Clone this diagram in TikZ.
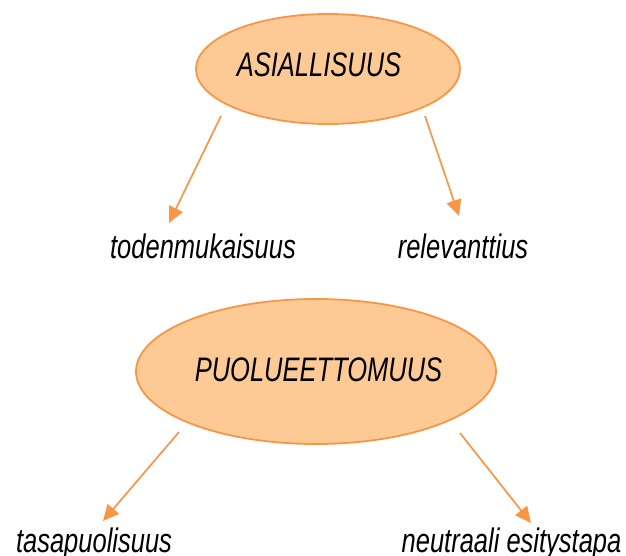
\documentclass[tikz,border=0pt]{standalone}
\usepackage{fontspec}
\setmainfont{Liberation Sans}
\usetikzlibrary{shapes.geometric,arrows.meta}
\definecolor{orfill}{HTML}{FDCA95}
\definecolor{orline}{HTML}{F79646}
\tikzset{
  bubble/.style={ellipse, draw=orline, fill=orfill, line width=1.8pt, inner sep=0pt},
  lbl/.style={anchor=base, inner sep=0pt, font=\fontsize{34}{40}\selectfont\itshape},
  arr/.style={draw=orline, line width=1.7pt, -{Triangle[length=16pt,width=15pt]}}
}
\newcommand{\nar}[1]{\scalebox{0.75}[1]{#1}}
\begin{document}
\begin{tikzpicture}[x=1pt,y=-1pt]
\useasboundingbox (0,0) rectangle (626,556);
% ellipses
\node[bubble, minimum width=264, minimum height=110] (e1) at (328,69) {};
\node[lbl] (t1) at (319,77) {\nar{ASIALLISUUS}};
\node[bubble, minimum width=360, minimum height=145] (e2) at (316,371.5) {};
\node[lbl] (t2) at (318.5,381) {\nar{PUOLUEETTOMUUS}};
% labels
\node[lbl] (l1) at (203,258) {\nar{todenmukaisuus}};
\node[lbl] (l2) at (463,258) {\nar{relevanttius}};
\node[lbl] (l3) at (94,552) {\nar{tasapuolisuus}};
\node[lbl] (l4) at (511.5,552) {\nar{neutraali esitystapa}};
% arrow end points
\coordinate (s1) at (221,116);
\coordinate (d1) at (169,223);
\coordinate (s2) at (425,116);
\coordinate (d2) at (459,216);
\coordinate (s3) at (179,432);
\coordinate (d3) at (103,521);
\coordinate (s4) at (460,433);
\coordinate (d4) at (531,523);
\draw[arr] (s1) -- (d1);
\draw[arr] (s2) -- (d2);
\draw[arr] (s3) -- (d3);
\draw[arr] (s4) -- (d4);
\end{tikzpicture}
\end{document}
